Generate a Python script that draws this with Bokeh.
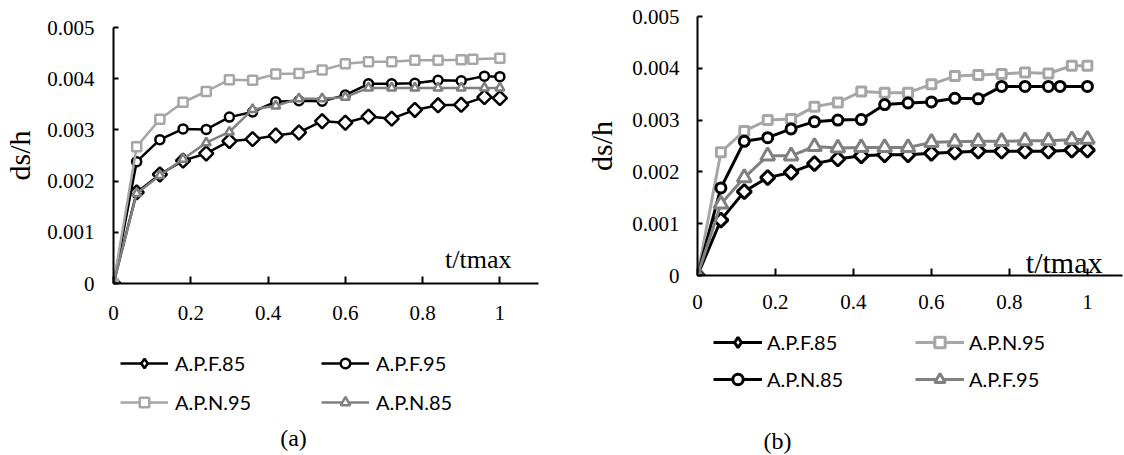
import numpy as np
from bokeh.plotting import figure
from bokeh.layouts import row, column
from bokeh.models import Range1d, FixedTicker, Label, Legend, LegendItem, ColumnDataSource
from bokeh.embed import file_html
from bokeh.resources import INLINE

# ---------------- data ----------------
x_ticks = [0, 0.2, 0.4, 0.6, 0.8, 1.0]
x_tick_labels = ["0", "0.2", "0.4", "0.6", "0.8", "1"]
y_ticks = [0, 0.001, 0.002, 0.003, 0.004, 0.005]
y_tick_labels = ["0", "0.001", "0.002", "0.003", "0.004", "0.005"]

t_96 = [0, 0.06, 0.12, 0.18, 0.24, 0.30, 0.36, 0.42, 0.48, 0.54, 0.60, 0.66, 0.72, 0.78, 0.84, 0.90, 0.96, 1.0]
t_93 = [0, 0.06, 0.12, 0.18, 0.24, 0.30, 0.36, 0.42, 0.48, 0.54, 0.60, 0.66, 0.72, 0.78, 0.84, 0.90, 0.93, 1.0]

# chart (a)
a_names = ["A.P.F.85", "A.P.F.95", "A.P.N.95", "A.P.N.85"]
a_apf85 = [0, 0.00178, 0.00213, 0.00240, 0.00254, 0.00278, 0.00282, 0.00289, 0.00295, 0.00317,
           0.00314, 0.00326, 0.00322, 0.00339, 0.00348, 0.00349, 0.00364, 0.00362]
a_apf95 = [0, 0.00238, 0.00281, 0.00302, 0.00301, 0.00325, 0.00335, 0.00355, 0.00357, 0.00356,
           0.00368, 0.00390, 0.00390, 0.00391, 0.00397, 0.00396, 0.00405, 0.00404]
a_apn95 = [0, 0.00267, 0.00321, 0.00354, 0.00375, 0.00398, 0.00397, 0.00409, 0.00410, 0.00417,
           0.00429, 0.00433, 0.00433, 0.00436, 0.00436, 0.00437, 0.00438, 0.00440]
a_apn85 = [0, 0.00176, 0.00211, 0.00243, 0.00275, 0.00296, 0.00340, 0.00347, 0.00361, 0.00361,
           0.00364, 0.00382, 0.00382, 0.00382, 0.00382, 0.00382, 0.00382, 0.00382]

# chart (b)
b_names = ["A.P.F.85", "A.P.N.95", "A.P.N.85", "A.P.F.95"]
b_apf85 = [0, 0.00107, 0.00162, 0.00189, 0.00199, 0.00216, 0.00225, 0.00231, 0.00233, 0.00233,
           0.00236, 0.00238, 0.00240, 0.00240, 0.00240, 0.00240, 0.00242, 0.00242]
b_apn95 = [0, 0.00238, 0.00279, 0.00300, 0.00302, 0.00326, 0.00334, 0.00355, 0.00353, 0.00353,
           0.00369, 0.00385, 0.00387, 0.00389, 0.00392, 0.00390, 0.00405, 0.00405]
b_apn85 = [0, 0.00169, 0.00259, 0.00266, 0.00283, 0.00297, 0.00300, 0.00301, 0.00330, 0.00333,
           0.00335, 0.00342, 0.00341, 0.00365, 0.00365, 0.00365, 0.00365, 0.00365]
b_apf95 = [0, 0.00138, 0.00189, 0.00231, 0.00231, 0.00249, 0.00246, 0.00247, 0.00247, 0.00247,
           0.00257, 0.00258, 0.00259, 0.00259, 0.00260, 0.00260, 0.00262, 0.00263]

x_axis_title = "t/tmax"
y_axis_title = "ds/h"

BLACK = "#000000"
LIGHT = "#A6A6A6"
MID = "#808080"
SERIF = "Liberation Serif"
SANS = "Lato"


def make_chart(cfg, sources):
    p = figure(width=cfg["width"], height=cfg["height"],
               x_range=Range1d(0, cfg["x1"]), y_range=Range1d(0, 0.005),
               output_backend="svg", toolbar_location=None,
               min_border_left=cfg["bl"], min_border_right=cfg["br"],
               min_border_top=cfg["bt"], min_border_bottom=cfg["bb"])
    p.outline_line_color = None
    p.xgrid.visible = False
    p.ygrid.visible = False
    p.background_fill_color = "white"
    p.border_fill_color = "white"

    for ax in (p.xaxis[0], p.yaxis[0]):
        ax.axis_line_width = 2
        ax.axis_line_color = BLACK
        ax.major_tick_line_width = 2
        ax.major_tick_line_color = BLACK
        ax.major_tick_out = 0
        ax.minor_tick_line_color = None
        ax.major_label_text_font = SERIF
        ax.major_label_text_font_size = "21px"
        ax.major_label_text_color = BLACK
    xa, ya = p.xaxis[0], p.yaxis[0]
    xa.ticker = FixedTicker(ticks=x_ticks)
    xa.major_label_overrides = {t: s for t, s in zip(x_ticks, x_tick_labels)}
    xa.major_tick_in = 7
    xa.major_label_standoff = cfg["xstand"]
    ya.ticker = FixedTicker(ticks=y_ticks)
    ya.major_label_overrides = {t: s for t, s in zip(y_ticks, y_tick_labels)}
    ya.major_tick_in = 5
    ya.major_label_standoff = cfg["ystand"]
    ya.axis_label = y_axis_title
    ya.axis_label_text_font = SERIF
    ya.axis_label_text_font_size = "30px"
    ya.axis_label_text_font_style = "normal"
    ya.axis_label_text_color = BLACK
    ya.axis_label_standoff = cfg["ylab_stand"]

    lw = cfg["lw"]
    for (name, xs, ys, marker, color, size, angle), src in zip(cfg["series"], sources):
        p.line("x", "y", source=src, line_color=color, line_width=lw)
        p.scatter("x", "y", source=src, marker=marker, size=size, angle=angle,
                  fill_color="white", line_color=color, line_width=lw)

    p.add_layout(Label(x=cfg["xlab"][0], y=cfg["xlab"][1], x_units="screen", y_units="screen",
                       text=x_axis_title, text_align="right", text_baseline="alphabetic",
                       text_font=SERIF, text_font_size=cfg["xlab_size"], text_color=BLACK))
    return p


def make_legend(cfg, sources):
    # legend strip under the chart; the series are drawn from the same sources,
    # but the view range lies outside the data so only the legend entries show
    h = cfg["total_h"] - cfg["height"]
    q = figure(width=cfg["width"], height=h, x_range=Range1d(2, 3), y_range=Range1d(2, 3),
               output_backend="svg", toolbar_location=None,
               x_axis_location=None, y_axis_location=None,
               min_border_left=cfg["bl"], min_border_right=cfg["br"],
               min_border_top=0, min_border_bottom=0)
    q.outline_line_color = None
    q.xgrid.visible = False
    q.ygrid.visible = False
    lw = cfg["lw"]
    for (name, xs, ys, marker, color, size, angle), src, loc in zip(cfg["series"], sources, cfg["leg_locs"]):
        # legend swatches ignore the marker angle, so the rotated square becomes a diamond here
        leg_marker = "diamond" if angle else marker
        l = q.line("x", "y", source=src, line_color=color, line_width=lw)
        s = q.scatter("x", "y", source=src, marker=leg_marker, size=size,
                      fill_color="white", line_color=color, line_width=lw)
        lg = Legend(items=[LegendItem(label=name, renderers=[l, s])], location=loc,
                    orientation="horizontal", padding=0, margin=0,
                    border_line_color=None, background_fill_alpha=0,
                    glyph_width=cfg["gw"], glyph_height=cfg["gh"], label_height=24,
                    label_standoff=cfg["ls"], label_text_font=SANS,
                    label_text_font_size="20px", label_text_color=BLACK)
        q.add_layout(lg)
    q.add_layout(Label(x=cfg["cap"][0], y=cfg["cap"][1], x_units="screen", y_units="screen",
                       text=cfg["caption"], text_align="center", text_baseline="middle",
                       text_font=SERIF, text_font_size="24px", text_color=BLACK))
    return q


cfg_a = dict(
    width=560, height=328, total_h=455, x1=1.1, bl=110, br=22, bt=27, bb=45, xstand=22,
    ystand=19, ylab_stand=8, lw=2.5,
    series=[
        (a_names[0], t_96, a_apf85, "square", BLACK, 10, np.pi / 4),
        (a_names[1], t_96, a_apf95, "circle", BLACK, 9, 0),
        (a_names[2], t_93, a_apn95, "square", LIGHT, 9, 0),
        (a_names[3], t_96, a_apn85, "triangle", MID, 9, 0),
    ],
    leg_locs=[(7, 80), (208, 80), (7, 41), (208, 41)],
    gw=48, gh=24, ls=7,
    xlab=(398, 24), xlab_size="26px", cap=(180, 18), caption="(a)",
)

cfg_b = dict(
    width=564, height=320, total_h=455, x1=1.09, bl=137, br=2, bt=16, bb=45, xstand=19,
    ystand=18, ylab_stand=11, lw=3,
    series=[
        (b_names[0], t_96, b_apf85, "square", BLACK, 10, np.pi / 4),
        (b_names[1], t_96, b_apn95, "square", LIGHT, 9, 0),
        (b_names[2], t_93, b_apn85, "circle", BLACK, 10, 0),
        (b_names[3], t_96, b_apf95, "triangle", MID, 14, 0),
    ],
    leg_locs=[(16, 100), (218, 100), (16, 63), (218, 63)],
    gw=49, gh=26, ls=5,
    xlab=(405, 13), xlab_size="30px", cap=(80, 15), caption="(b)",
)


def build(cfg):
    sources = [ColumnDataSource(dict(x=xs, y=ys)) for (_, xs, ys, *_rest) in cfg["series"]]
    return column(make_chart(cfg, sources), make_legend(cfg, sources))


layout = row(build(cfg_a), build(cfg_b))

open("out.html", "w").write(file_html(layout, INLINE))
